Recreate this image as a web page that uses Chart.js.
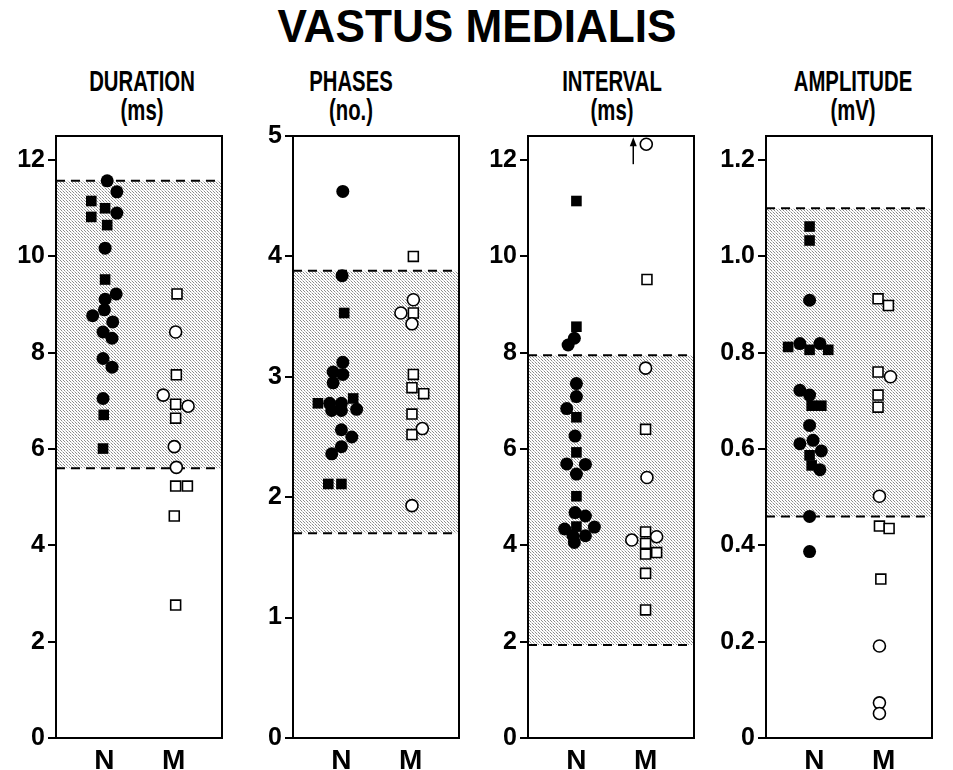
<!DOCTYPE html>
<html>
<head>
<meta charset="utf-8">
<script src="https://cdn.jsdelivr.net/npm/chart.js@4.4.1/dist/chart.umd.min.js"></script>
<style>
  body { margin: 0; background: #fff; width: 953px; height: 770px; position: relative; overflow: hidden;
         font-family: "Liberation Sans", Arial, sans-serif; color: #000; }
  #title { position: absolute; left: 477px; top: 3px; font-weight: bold; font-size: 46px; line-height: 46px;
           white-space: nowrap; transform: translateX(-50%) scaleX(0.96); }
  .hdr { position: absolute; top: 67px; text-align: center; font-weight: bold; font-size: 29px; line-height: 29px;
         white-space: nowrap; transform: translateX(-50%) scaleX(0.7); }
  canvas { position: absolute; top: 50px; }
</style>
</head>
<body>
<div id="title">VASTUS MEDIALIS</div>
<div class="hdr" style="left:142px">DURATION<br>(ms)</div>
<div class="hdr" style="left:351px">PHASES<br>(no.)</div>
<div class="hdr" style="left:612px">INTERVAL<br>(ms)</div>
<div class="hdr" style="left:853px">AMPLITUDE<br>(mV)</div>
<canvas id="c1" width="236" height="720" style="left:0px"></canvas>
<canvas id="c2" width="236" height="720" style="left:237px"></canvas>
<canvas id="c3" width="236" height="720" style="left:472px"></canvas>
<canvas id="c4" width="236" height="720" style="left:710px"></canvas>
<script>
// groups on the x axis: N = 1, M = 2 (small offsets = swarm spread)
const groupLabels = ['N', 'M'];
const groupPos = [1, 2];

// DURATION (ms)
const durationTicks = [0, 2, 4, 6, 8, 10, 12];
const durationBand = [5.6, 11.57];
const durationNCircles = [[1.04, 11.57], [1.18, 11.34], [1.18, 10.9], [1.01, 10.17], [1.17, 9.22], [1.01, 9.11],
  [1.0, 8.89], [0.83, 8.77], [1.12, 8.64], [0.98, 8.43], [1.11, 8.3], [0.98, 7.88], [1.11, 7.7], [0.98, 7.05]];
const durationNSquares = [[0.81, 11.15], [1.01, 11.0], [0.81, 10.82], [1.04, 10.65], [1.01, 9.52], [0.99, 6.71], [0.98, 6.01]];
const durationMCircles = [[2.03, 8.43], [1.85, 7.12], [2.21, 6.89], [2.01, 6.05], [2.04, 5.62]];
const durationMSquares = [[2.05, 9.22], [2.04, 7.54], [2.03, 6.93], [2.03, 6.64], [2.03, 5.23], [2.2, 5.23], [2.01, 4.61], [2.03, 2.76]];

// PHASES (no.)
const phasesTicks = [0, 1, 2, 3, 4, 5];
const phasesBand = [1.7, 3.88];
const phasesNCircles = [[1.02, 4.54], [1.01, 3.84], [1.02, 3.12], [0.88, 3.04], [1.02, 3.02], [0.88, 2.95], [0.83, 2.78],
  [1.0, 2.78], [1.22, 2.73], [0.86, 2.72], [1.0, 2.72], [1.0, 2.56], [1.15, 2.5], [1.0, 2.42], [0.86, 2.36]];
const phasesNSquares = [[1.04, 3.53], [0.66, 2.78], [1.17, 2.82], [0.81, 2.11], [1.0, 2.11]];
const phasesMCircles = [[1.86, 3.53], [2.04, 3.64], [2.02, 3.44], [2.17, 2.57], [2.02, 1.93]];
const phasesMSquares = [[2.04, 4.0], [2.04, 3.53], [2.04, 3.02], [2.02, 2.91], [2.19, 2.86], [2.02, 2.69], [2.02, 2.52]];

// INTERVAL (ms)
const intervalTicks = [0, 2, 4, 6, 8, 10, 12];
const intervalBand = [1.93, 7.95];
const intervalNCircles = [[0.97, 8.3], [0.88, 8.16], [1.0, 7.36], [1.0, 7.09], [0.86, 6.84], [0.98, 6.27], [0.86, 5.69],
  [1.13, 5.68], [1.0, 5.48], [0.98, 4.68], [1.13, 4.61], [0.83, 4.34], [1.26, 4.38], [0.95, 4.2], [1.13, 4.2], [0.97, 4.06]];
const intervalNSquares = [[1.0, 11.15], [1.0, 8.54], [1.0, 6.66], [1.0, 5.93], [1.0, 5.02], [1.0, 4.39]];
const intervalMCircles = [[2.01, 12.33], [2.0, 7.68], [2.02, 5.41], [1.8, 4.11], [2.16, 4.18]];
const intervalMSquares = [[2.02, 9.52], [2.0, 6.41], [2.0, 4.28], [2.0, 4.04], [2.0, 3.82], [2.16, 3.85], [2.0, 3.42], [2.0, 2.66]];

// AMPLITUDE (mV)
const amplitudeTicks = [0, 0.2, 0.4, 0.6, 0.8, 1.0, 1.2];
const amplitudeBand = [0.46, 1.1];
const amplitudeNCircles = [[0.93, 0.909], [0.79, 0.819], [1.08, 0.819], [0.79, 0.722], [0.93, 0.712], [0.93, 0.649],
  [0.79, 0.611], [0.98, 0.618], [1.1, 0.596], [1.08, 0.557], [0.93, 0.46], [0.93, 0.387]];
const amplitudeNSquares = [[0.93, 1.062], [0.93, 1.033], [0.62, 0.812], [0.93, 0.806], [1.2, 0.806], [0.96, 0.69],
  [1.1, 0.69], [0.93, 0.587], [0.96, 0.566]];
const amplitudeMCircles = [[2.1, 0.75], [1.94, 0.502], [1.94, 0.191], [1.94, 0.073], [1.94, 0.051]];
const amplitudeMSquares = [[1.92, 0.912], [2.07, 0.898], [1.92, 0.76], [1.92, 0.712], [1.92, 0.687], [1.94, 0.44],
  [2.08, 0.435], [1.96, 0.33]];

const X_MIN = 0.3, X_MAX = 2.7;

// fine dot screen for the normal range band
function stipple() {
  const t = document.createElement('canvas');
  t.width = 3; t.height = 3;
  const c = t.getContext('2d');
  c.fillStyle = '#fff'; c.fillRect(0, 0, 3, 3);
  c.fillStyle = '#8c8c8c';
  c.fillRect(0, 0, 1, 1);
  c.fillRect(1, 1, 1, 1);
  c.fillStyle = '#c8c8c8';
  c.fillRect(2, 2, 1, 1);
  return c.createPattern(t, 'repeat');
}
const pattern = stipple();

const toPts = arr => arr.map(p => ({ x: p[0], y: p[1] }));

const boxPlugin = {
  id: 'box',
  afterDraw(chart) {
    const { ctx, chartArea: a } = chart;
    ctx.save();
    ctx.strokeStyle = '#000';
    ctx.lineWidth = 2;
    ctx.strokeRect(a.left, a.top, a.right - a.left, a.bottom - a.top);
    ctx.restore();
  }
};

// little up-arrow beside the off-scale interval point
const arrowPlugin = {
  id: 'arrow',
  afterDatasetsDraw(chart, args, opts) {
    if (!opts.point) return;
    const { ctx, scales } = chart;
    const px = scales.x.getPixelForValue(opts.point[0]) - 13;
    const py = scales.y.getPixelForValue(opts.point[1]);
    ctx.save();
    ctx.strokeStyle = '#000'; ctx.fillStyle = '#000'; ctx.lineWidth = 1.5;
    ctx.beginPath(); ctx.moveTo(px, py + 20); ctx.lineTo(px, py - 2); ctx.stroke();
    ctx.beginPath(); ctx.moveTo(px, py - 7); ctx.lineTo(px - 3.5, py + 2); ctx.lineTo(px + 3.5, py + 2); ctx.closePath(); ctx.fill();
    ctx.restore();
  }
};

function makePanel(id, ticks, yMax, band, nC, nS, mC, mS, fmt, arrowPoint) {
  const bandLine = (v, fill) => ({
    type: 'line', showLine: true, data: [{ x: X_MIN, y: v }, { x: X_MAX, y: v }],
    borderColor: '#000', borderWidth: 2, borderDash: [9, 6], pointRadius: 0,
    fill: fill, backgroundColor: pattern
  });
  new Chart(document.getElementById(id), {
    type: 'scatter',
    data: {
      datasets: [
        { data: toPts(nC), pointStyle: 'circle', pointRadius: 6.5, backgroundColor: '#000', borderColor: '#000', borderWidth: 0 },
        { data: toPts(nS), pointStyle: 'rect', pointRadius: 7.5, backgroundColor: '#000', borderColor: '#000', borderWidth: 0 },
        { data: toPts(mC), pointStyle: 'circle', pointRadius: 6, backgroundColor: '#fff', borderColor: '#000', borderWidth: 1.6 },
        { data: toPts(mS), pointStyle: 'rect', pointRadius: 7, backgroundColor: '#fff', borderColor: '#000', borderWidth: 1.6 },
        bandLine(band[1], false),
        bandLine(band[0], '-1')
      ]
    },
    options: {
      responsive: false,
      animation: false,
      layout: { padding: { top: 86, right: 14, bottom: 0, left: 0 } },
      plugins: { legend: { display: false }, tooltip: { enabled: false }, arrow: { point: arrowPoint } },
      scales: {
        x: {
          type: 'linear', min: X_MIN, max: X_MAX,
          afterBuildTicks: s => { s.ticks = groupPos.map(v => ({ value: v })); },
          afterFit: s => { s.height = 32; },
          grid: { display: false, drawTicks: false },
          border: { display: false },
          ticks: {
            padding: 6, color: '#000', font: { family: 'Liberation Sans', size: 28, weight: 'bold' },
            callback: v => groupLabels[groupPos.indexOf(v)]
          }
        },
        y: {
          min: 0, max: yMax,
          afterBuildTicks: s => { s.ticks = ticks.map(v => ({ value: v })); },
          afterFit: s => { s.width = 56; },
          grid: { drawOnChartArea: false, drawTicks: true, tickLength: 8, color: '#000', lineWidth: 2 },
          border: { display: false },
          ticks: {
            padding: 3, color: '#000', font: { family: 'Liberation Sans', size: 25, weight: 'bold' },
            callback: fmt
          }
        }
      }
    },
    plugins: [boxPlugin, arrowPlugin]
  });
}

const intFmt = v => String(v);
const decFmt = v => (v === 0 ? '0' : v.toFixed(1));
const topPoint = intervalMCircles.reduce((a, b) => (b[1] > a[1] ? b : a));

makePanel('c1', durationTicks, 12.5, durationBand, durationNCircles, durationNSquares, durationMCircles, durationMSquares, intFmt);
makePanel('c2', phasesTicks, 5, phasesBand, phasesNCircles, phasesNSquares, phasesMCircles, phasesMSquares, intFmt);
makePanel('c3', intervalTicks, 12.5, intervalBand, intervalNCircles, intervalNSquares, intervalMCircles, intervalMSquares, intFmt, topPoint);
makePanel('c4', amplitudeTicks, 1.25, amplitudeBand, amplitudeNCircles, amplitudeNSquares, amplitudeMCircles, amplitudeMSquares, decFmt);
</script>
</body>
</html>
